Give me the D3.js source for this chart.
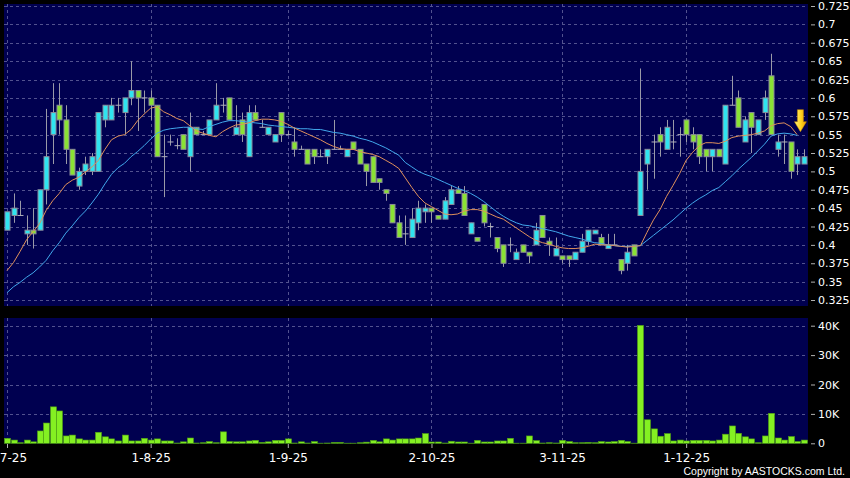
<!DOCTYPE html>
<html lang="en">
<head>
<meta charset="UTF-8">
<script src="https://cdn.jsdelivr.net/npm/d3@7"></script>
<style>
    * { margin: 0; padding: 0; }
    body { background-color: #000; }
    svg { display: block; font-family: "DejaVu Sans", Verdana, sans-serif; }
</style>
<title>Daily chart</title>
</head>
<body>
<div id="chart"></div>
<script>
// daily candles, one entry per trading day (2 Jul 2025 .. late Dec 2025)
var opens = [
    0.42,0.44,0.44,0.415,0.42,0.42,0.475,0.55,0.59,0.57,
    0.53,0.48,0.50,0.50,0.50,0.57,0.57,0.59,0.58,0.60,
    0.61,0.60,0.60,0.59,0.52,0.54,0.535,0.55,0.52,0.56,
    0.55,0.55,0.57,0.59,0.60,0.55,0.57,0.52,0.58,0.56,
    0.55,0.54,0.58,0.55,0.54,0.53,0.53,0.53,0.52,0.52,
    0.53,0.53,0.52,0.54,0.53,0.51,0.52,0.49,0.475,0.455,
    0.43,0.415,0.41,0.43,0.445,0.45,0.44,0.435,0.455,0.475,
    0.47,0.415,0.41,0.455,0.425,0.41,0.40,0.40,0.38,0.40,
    0.39,0.40,0.44,0.405,0.385,0.385,0.385,0.38,0.39,0.405,
    0.415,0.41,0.395,0.40,0.38,0.375,0.40,0.44,0.51,0.54,
    0.55,0.53,0.54,0.55,0.57,0.55,0.55,0.53,0.52,0.53,
    0.51,0.59,0.60,0.54,0.58,0.55,0.58,0.63,0.53,0.54,
    0.54,0.51,0.51
];
var highs = [
    0.445,0.47,0.46,0.44,0.45,0.475,0.585,0.62,0.62,0.59,
    0.53,0.505,0.52,0.525,0.58,0.59,0.60,0.60,0.60,0.65,
    0.61,0.61,0.61,0.59,0.55,0.55,0.545,0.55,0.58,0.56,
    0.555,0.57,0.62,0.60,0.60,0.59,0.58,0.59,0.59,0.57,
    0.56,0.55,0.58,0.555,0.56,0.535,0.53,0.53,0.53,0.53,
    0.57,0.535,0.53,0.54,0.53,0.51,0.52,0.49,0.475,0.455,
    0.44,0.44,0.45,0.46,0.455,0.45,0.44,0.465,0.48,0.48,
    0.48,0.43,0.41,0.455,0.43,0.41,0.40,0.41,0.395,0.40,
    0.39,0.43,0.44,0.41,0.41,0.385,0.385,0.39,0.415,0.42,
    0.42,0.415,0.415,0.415,0.38,0.40,0.40,0.64,0.53,0.55,
    0.56,0.57,0.57,0.56,0.57,0.56,0.55,0.53,0.53,0.53,
    0.59,0.63,0.61,0.575,0.58,0.57,0.61,0.66,0.55,0.55,
    0.54,0.53,0.53
];
var lows = [
    0.42,0.43,0.44,0.40,0.395,0.42,0.455,0.51,0.55,0.51,
    0.495,0.475,0.495,0.495,0.50,0.56,0.57,0.58,0.55,0.59,
    0.555,0.58,0.57,0.52,0.465,0.535,0.53,0.53,0.50,0.55,
    0.55,0.55,0.57,0.58,0.57,0.55,0.54,0.52,0.57,0.56,
    0.55,0.54,0.54,0.55,0.52,0.53,0.51,0.51,0.52,0.51,
    0.53,0.53,0.52,0.53,0.51,0.48,0.485,0.475,0.46,0.43,
    0.41,0.40,0.41,0.42,0.43,0.43,0.435,0.435,0.455,0.47,
    0.44,0.415,0.405,0.425,0.41,0.39,0.37,0.39,0.38,0.39,
    0.375,0.40,0.41,0.385,0.385,0.375,0.37,0.38,0.39,0.40,
    0.415,0.40,0.395,0.40,0.36,0.365,0.385,0.44,0.475,0.49,
    0.52,0.53,0.53,0.52,0.54,0.53,0.51,0.50,0.50,0.52,
    0.51,0.59,0.56,0.54,0.525,0.55,0.57,0.55,0.52,0.51,
    0.49,0.495,0.51
];
var closes = [
    0.445,0.45,0.44,0.42,0.415,0.475,0.52,0.58,0.57,0.53,
    0.495,0.50,0.51,0.52,0.58,0.59,0.59,0.59,0.60,0.61,
    0.60,0.60,0.59,0.52,0.52,0.54,0.535,0.53,0.56,0.55,
    0.55,0.57,0.59,0.59,0.57,0.56,0.55,0.58,0.57,0.56,
    0.56,0.55,0.55,0.55,0.53,0.53,0.51,0.52,0.52,0.53,
    0.53,0.53,0.53,0.53,0.51,0.50,0.485,0.485,0.47,0.43,
    0.41,0.415,0.435,0.45,0.45,0.445,0.435,0.46,0.475,0.47,
    0.44,0.43,0.405,0.43,0.425,0.395,0.375,0.40,0.39,0.39,
    0.385,0.42,0.41,0.40,0.395,0.38,0.38,0.39,0.405,0.42,
    0.42,0.40,0.40,0.40,0.365,0.39,0.385,0.50,0.53,0.54,
    0.54,0.56,0.54,0.55,0.55,0.54,0.52,0.52,0.53,0.52,
    0.59,0.59,0.56,0.57,0.56,0.57,0.60,0.55,0.54,0.54,
    0.50,0.52,0.52
];
// volume in thousands of shares
var volumes = [
    1.7,1.1,0.2,1.1,0.5,4.2,6.9,12.4,11.0,2.5,
    2.8,1.5,1.1,1.1,3.75,2.2,1.5,0.8,2.8,0.8,
    0.8,1.7,1.1,1.5,0.8,0.8,0.1,0.5,1.8,0.1,
    0.2,0.6,0.2,3.9,0.6,0.5,0.5,0.8,1.0,0.3,
    0.5,1.0,1.0,1.5,0.1,0.5,0.1,0.6,0.05,0.1,
    0.3,0.3,0.05,0.05,0.2,0.4,1.0,0.5,1.5,1.1,
    1.5,1.5,1.5,1.8,3.3,0.45,0.45,0.1,0.7,0.45,
    0.45,0.05,1.0,0.45,0.45,0.8,0.8,1.7,0.05,0.05,
    2.5,0.9,0.1,0.2,0.1,1.0,0.6,0.2,0.2,0.3,
    0.2,0.6,0.45,0.6,1.0,0.6,0.05,40.1,8.0,4.9,
    2.4,3.3,0.8,1.1,0.8,1.0,1.0,1.0,0.8,1.1,
    3.1,5.9,3.4,2.2,1.5,0.2,2.5,10.2,1.8,1.1,
    2.3,0.6,1.1
];
// moving averages as drawn on the chart (short = orange, long = blue)
var maShort = [
    0.365,0.376,0.391,0.407,0.418,0.429,0.447,0.460,0.470,0.482,
    0.488,0.492,0.499,0.506,0.515,0.530,0.543,0.548,0.550,0.557,
    0.569,0.578,0.586,0.588,0.581,0.577,0.572,0.569,0.562,0.555,
    0.552,0.549,0.547,0.554,0.559,0.563,0.564,0.566,0.569,0.571,
    0.571,0.570,0.568,0.564,0.559,0.555,0.551,0.547,0.543,0.538,
    0.534,0.531,0.530,0.530,0.527,0.525,0.523,0.520,0.515,0.510,
    0.504,0.491,0.478,0.466,0.457,0.452,0.447,0.442,0.441,0.442,
    0.446,0.448,0.448,0.446,0.442,0.438,0.435,0.429,0.423,0.417,
    0.411,0.406,0.403,0.401,0.398,0.396,0.395,0.395,0.396,0.398,
    0.401,0.400,0.400,0.399,0.398,0.397,0.398,0.399,0.417,0.434,
    0.448,0.466,0.481,0.497,0.515,0.526,0.535,0.539,0.539,0.538,
    0.541,0.546,0.548,0.549,0.550,0.552,0.555,0.562,0.565,0.566,
    0.561,0.550
];
var maLong = [
    0.335,0.343,0.349,0.356,0.362,0.370,0.379,0.392,0.403,0.416,
    0.426,0.437,0.446,0.457,0.469,0.483,0.496,0.505,0.511,0.520,
    0.527,0.535,0.544,0.552,0.556,0.558,0.559,0.560,0.560,0.558,
    0.557,0.561,0.564,0.567,0.569,0.569,0.568,0.567,0.566,0.565,
    0.563,0.562,0.561,0.560,0.559,0.558,0.558,0.557,0.557,0.555,
    0.553,0.552,0.550,0.548,0.545,0.543,0.540,0.536,0.532,0.527,
    0.522,0.512,0.506,0.500,0.496,0.493,0.489,0.485,0.481,0.477,
    0.474,0.470,0.465,0.459,0.452,0.445,0.439,0.434,0.430,0.427,
    0.426,0.424,0.422,0.420,0.418,0.415,0.412,0.410,0.408,0.405,
    0.403,0.402,0.400,0.399,0.398,0.398,0.398,0.399,0.406,0.413,
    0.420,0.427,0.434,0.442,0.450,0.457,0.463,0.468,0.474,0.478,
    0.486,0.494,0.503,0.511,0.519,0.528,0.537,0.548,0.551,0.552,
    0.551,0.549
];

var dateTickIdx = [0, 22, 43, 65, 85, 104];
var dateTickLabels = ["2-7-25", "1-8-25", "1-9-25", "2-10-25", "3-11-25", "1-12-25"];
var priceTicks = [0.325,0.35,0.375,0.4,0.425,0.45,0.475,0.5,0.525,0.55,0.575,0.6,0.625,0.65,0.675,0.7,0.725];
var volTicks = [0, 10, 20, 30, 40];

// signal arrow over the last candles
var arrowIdx = 121.5, arrowTop = 0.584, arrowTip = 0.554;

var w = 850, h = 478;
var left = 4, right = 808;
var mainTop = 4, mainBottom = 306;
var volTop = 318, volBottom = 443.5;

var navy = "#000050";
var gridColor = "#52528f";
var upColor = "#2fe4f0";
var downColor = "#8ae234";
var edgeColor = "#8a8a9a";

var n = closes.length;

var xScale = d3.scaleLinear().domain([0, n - 1]).range([7, 803.7]);
var yScale = d3.scaleLinear().domain([0.325, 0.725]).range([300, 6]);
var vScale = d3.scaleLinear().domain([0, 40]).range([443.3, 325.7]);

var svg = d3.select("#chart").append("svg")
    .attr("width", w)
    .attr("height", h);

svg.append("rect").attr("width", w).attr("height", h).attr("fill", "#000");

var defs = svg.append("defs");
defs.append("clipPath").attr("id", "clipMain")
    .append("rect").attr("x", left).attr("y", mainTop)
    .attr("width", right - left).attr("height", mainBottom - mainTop);
var grad = defs.append("linearGradient").attr("id", "arrowGrad")
    .attr("x1", "0").attr("x2", "1").attr("y1", "0").attr("y2", "0");
grad.append("stop").attr("offset", "0%").attr("stop-color", "#fff27a");
grad.append("stop").attr("offset", "55%").attr("stop-color", "#ffd21e");
grad.append("stop").attr("offset", "100%").attr("stop-color", "#e89a00");

// panels
svg.append("rect").attr("x", left).attr("y", mainTop)
    .attr("width", right - left).attr("height", mainBottom - mainTop).attr("fill", navy);
svg.append("rect").attr("x", left).attr("y", volTop)
    .attr("width", right - left).attr("height", volBottom - volTop).attr("fill", navy);

// grid
var grid = svg.append("g")
    .attr("stroke", gridColor)
    .attr("stroke-dasharray", "3,3")
    .attr("stroke-width", 1);

grid.selectAll(".hp").data(priceTicks).enter().append("line")
    .attr("x1", left).attr("x2", right)
    .attr("y1", function(d) { return Math.round(yScale(d)) + 0.5; })
    .attr("y2", function(d) { return Math.round(yScale(d)) + 0.5; });

grid.selectAll(".hv").data(volTicks.slice(1)).enter().append("line")
    .attr("x1", left).attr("x2", right)
    .attr("y1", function(d) { return Math.round(vScale(d)) + 0.5; })
    .attr("y2", function(d) { return Math.round(vScale(d)) + 0.5; });

dateTickIdx.forEach(function(d) {
    var gx = Math.round(xScale(d)) + 0.5;
    grid.append("line").attr("x1", gx).attr("x2", gx).attr("y1", mainTop).attr("y2", mainBottom);
    grid.append("line").attr("x1", gx).attr("x2", gx).attr("y1", volTop).attr("y2", volBottom);
});

// candles
var candles = svg.append("g").attr("clip-path", "url(#clipMain)");
var bw = 5;

candles.selectAll(".wick").data(d3.range(n)).enter().append("line")
    .attr("x1", function(i) { return Math.round(xScale(i)) + 0.5; })
    .attr("x2", function(i) { return Math.round(xScale(i)) + 0.5; })
    .attr("y1", function(i) { return yScale(highs[i]); })
    .attr("y2", function(i) { return yScale(lows[i]); })
    .attr("stroke", "#9a9aa8")
    .attr("stroke-width", 1);

var bodies = d3.range(n).filter(function(i) { return opens[i] !== closes[i]; });
var dojis = d3.range(n).filter(function(i) { return opens[i] === closes[i]; });

candles.selectAll(".body").data(bodies).enter().append("rect")
    .attr("x", function(i) { return Math.round(xScale(i)) - 2; })
    .attr("y", function(i) { return yScale(Math.max(opens[i], closes[i])); })
    .attr("width", bw)
    .attr("height", function(i) { return Math.abs(yScale(opens[i]) - yScale(closes[i])); })
    .attr("fill", function(i) { return closes[i] > opens[i] ? upColor : downColor; })
    .attr("stroke", edgeColor)
    .attr("stroke-width", 1);

candles.selectAll(".doji").data(dojis).enter().append("line")
    .attr("x1", function(i) { return Math.round(xScale(i)) - 2.5; })
    .attr("x2", function(i) { return Math.round(xScale(i)) + 3.5; })
    .attr("y1", function(i) { return yScale(closes[i]); })
    .attr("y2", function(i) { return yScale(closes[i]); })
    .attr("stroke", "#b0b0bc")
    .attr("stroke-width", 1);

// moving averages
var maLine = function(arr) {
    return d3.line()
        .x(function(d, i) { return xScale(i); })
        .y(function(d) { return yScale(d); })(arr);
};
candles.append("path").attr("d", maLine(maLong))
    .attr("fill", "none").attr("stroke", "#42a8ec").attr("stroke-width", 1);
candles.append("path").attr("d", maLine(maShort))
    .attr("fill", "none").attr("stroke", "#e0915c").attr("stroke-width", 1);

// arrow
var ax = xScale(arrowIdx), ay0 = yScale(arrowTop), ay1 = yScale(arrowTip);
var headY = ay1 - 10;
svg.append("path")
    .attr("d", "M" + (ax - 3) + "," + ay0 + "L" + (ax + 3) + "," + ay0 +
        "L" + (ax + 3) + "," + headY + "L" + (ax + 6) + "," + headY +
        "L" + ax + "," + ay1 + "L" + (ax - 6) + "," + headY +
        "L" + (ax - 3) + "," + headY + "Z")
    .attr("fill", "url(#arrowGrad)")
    .attr("stroke", "#c98a00")
    .attr("stroke-width", 0.5);

// volume bars
svg.append("g").selectAll("rect").data(volumes).enter().append("rect")
    .attr("x", function(d, i) { return Math.round(xScale(i)) - 2.5; })
    .attr("y", function(d) { return vScale(d); })
    .attr("width", 6)
    .attr("height", function(d) { return vScale(0) - vScale(d); })
    .attr("fill", "#84f022")
    .attr("stroke", "#4fa012")
    .attr("stroke-width", 0.6);

// axes
var priceAxis = d3.axisRight(yScale)
    .tickValues(priceTicks)
    .tickSize(4)
    .tickPadding(3)
    .tickFormat(function(d) { return String(+d.toFixed(3)); });

var volAxis = d3.axisRight(vScale)
    .tickValues(volTicks)
    .tickSize(4)
    .tickPadding(3)
    .tickFormat(function(d) { return d ? d + "K" : "0"; });

var dateAxis = d3.axisBottom(xScale)
    .tickValues(dateTickIdx)
    .tickSize(4)
    .tickPadding(5)
    .tickFormat(function(d, i) { return dateTickLabels[i]; });

[[priceAxis, "translate(811,0)", "11px"], [volAxis, "translate(811,0)", "11px"], [dateAxis, "translate(0,444)", "12px"]].forEach(function(a) {
    var g = svg.append("g").attr("transform", a[1]).call(a[0]);
    g.select(".domain").remove();
    g.selectAll("line").attr("stroke", "#b0b0b0");
    g.selectAll("text").attr("fill", "#fff").attr("font-size", a[2])
        .attr("font-family", "DejaVu Sans, Verdana, sans-serif");
});

svg.append("text")
    .attr("x", 845).attr("y", 475)
    .attr("text-anchor", "end")
    .attr("fill", "#fff")
    .attr("font-family", "Liberation Sans, Arial, sans-serif")
    .attr("font-size", "10.5px")
    .text("Copyright by AASTOCKS.com Ltd.");
</script>
</body>
</html>
